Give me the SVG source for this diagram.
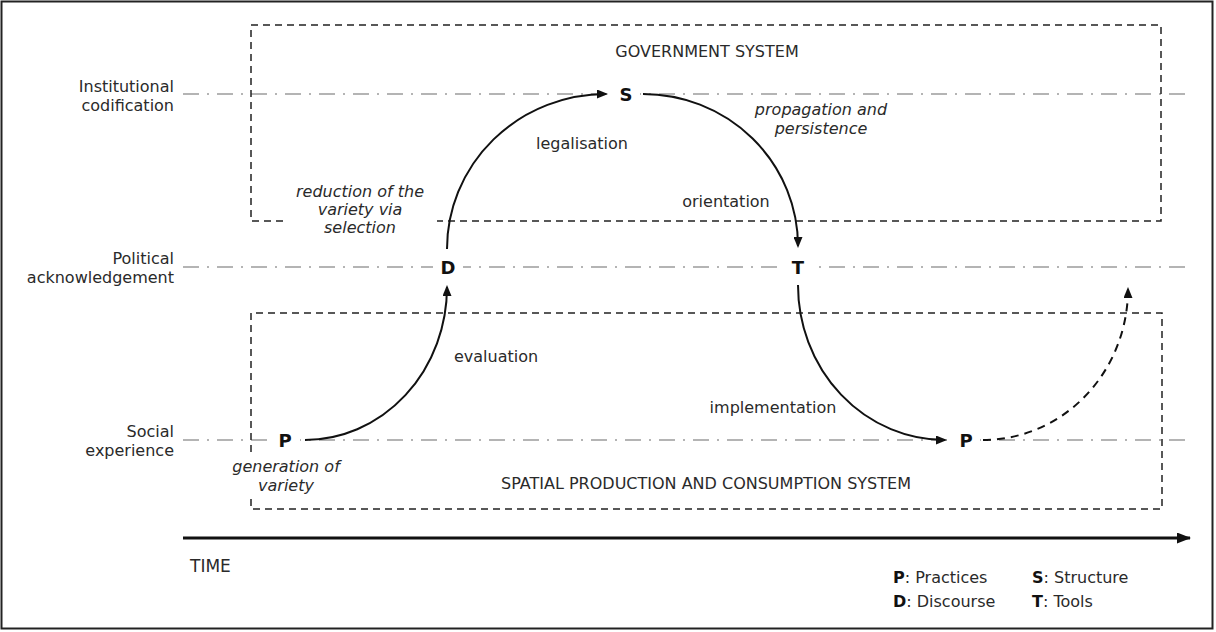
<svg xmlns="http://www.w3.org/2000/svg" width="1216" height="632" viewBox="0 0 1216 632">
<style>
text{font-family:"DejaVu Sans","Verdana",sans-serif;font-size:16px;fill:#2a2a2a}
.it{font-style:italic}
.mid{text-anchor:middle}
.end{text-anchor:end}
.node{font-weight:bold;font-size:18px;fill:#111;text-anchor:middle}
.b{font-weight:bold;fill:#111}
.level{stroke:#b4b4b4;stroke-width:2;fill:none;stroke-dasharray:16 8 2 8}
.box{stroke:#222;stroke-width:1.5;fill:none;stroke-dasharray:7 5}
.arc{stroke:#111;stroke-width:2;fill:none;marker-end:url(#ah)}
.dash{stroke-dasharray:8 6}
.bg{fill:#fff}
</style>
<defs>
<marker id="ah" markerUnits="userSpaceOnUse" markerWidth="11" markerHeight="9" viewBox="0 0 11 9" refX="9" refY="4.5" orient="auto">
<path d="M0,0 L11,4.5 L0,9 z" fill="#111"/>
</marker>
<marker id="ta" markerUnits="userSpaceOnUse" markerWidth="14" markerHeight="11" viewBox="0 0 14 11" refX="13" refY="5.5" orient="auto">
<path d="M0,0 L14,5.5 L0,11 z" fill="#111"/>
</marker>
</defs>
<rect x="1.5" y="1.5" width="1211" height="627" fill="#fff" stroke="#222" stroke-width="2"/>

<g id="levels">
<line class="level" x1="183" y1="94" x2="1190" y2="94"/>
<line class="level" x1="183" y1="267" x2="1190" y2="267"/>
<line class="level" x1="183" y1="440" x2="1190" y2="440"/>
<text class="end" x="174" y="92">Institutional</text>
<text class="end" x="174" y="111">codification</text>
<text class="end" x="174" y="264">Political</text>
<text class="end" x="174" y="283">acknowledgement</text>
<text class="end" x="174" y="437">Social</text>
<text class="end" x="174" y="456">experience</text>
</g>

<g id="government-system">
<path class="box" d="M283,221 L251,221 L251,25 L1161,25 L1161,221 L437,221"/>
<text class="mid" x="707" y="57">GOVERNMENT SYSTEM</text>
</g>

<g id="spatial-system">
<path class="box" d="M251,452 L251,313 L1162,313 L1162,509 L251,509 L251,498"/>
<text class="mid" x="706" y="489">SPATIAL PRODUCTION AND CONSUMPTION SYSTEM</text>
</g>

<g id="connectors">
<path class="arc" d="M305,440 A142,153 0 0 0 447,287"/>
<path class="arc" d="M447,249 A159,155 0 0 1 606,94"/>
<path class="arc" d="M643,94 A155,152 0 0 1 798,246"/>
<path class="arc" d="M798,285 A147,155 0 0 0 945,440"/>
<path class="arc dash" d="M983,440 A145,151 0 0 0 1128,289"/>
<text class="mid" x="582" y="149">legalisation</text>
<text class="mid" x="726" y="207">orientation</text>
<text class="mid" x="496" y="362">evaluation</text>
<text class="mid" x="773" y="413">implementation</text>
<text class="it mid" x="821" y="115">propagation and</text>
<text class="it mid" x="821" y="134">persistence</text>
<text class="it mid" x="360" y="197">reduction of the</text>
<text class="it mid" x="360" y="215">variety via</text>
<text class="it mid" x="360" y="233">selection</text>
<text class="it mid" x="286" y="472">generation of</text>
<text class="it mid" x="286" y="491">variety</text>
</g>

<g id="node-p1">
<rect class="bg" x="271" y="429" width="29" height="22"/>
<text class="node" x="285" y="446.5">P</text>
</g>
<g id="node-d">
<rect class="bg" x="433" y="256" width="30" height="22"/>
<text class="node" x="448" y="273.5">D</text>
</g>
<g id="node-s">
<rect class="bg" x="612" y="83" width="28" height="22"/>
<text class="node" x="626" y="100.5">S</text>
</g>
<g id="node-t">
<rect class="bg" x="784" y="256" width="29" height="22"/>
<text class="node" x="798" y="273.5">T</text>
</g>
<g id="node-p2">
<rect class="bg" x="952" y="429" width="28" height="22"/>
<text class="node" x="966" y="446.5">P</text>
</g>

<g id="time-axis">
<line x1="183" y1="538" x2="1190" y2="538" stroke="#111" stroke-width="3" marker-end="url(#ta)"/>
<text x="190" y="572" style="font-size:17px">TIME</text>
</g>

<g id="legend">
<text x="893" y="583"><tspan class="b">P</tspan>: Practices</text>
<text x="893" y="607"><tspan class="b">D</tspan>: Discourse</text>
<text x="1032" y="583"><tspan class="b">S</tspan>: Structure</text>
<text x="1032" y="607"><tspan class="b">T</tspan>: Tools</text>
</g>
</svg>
